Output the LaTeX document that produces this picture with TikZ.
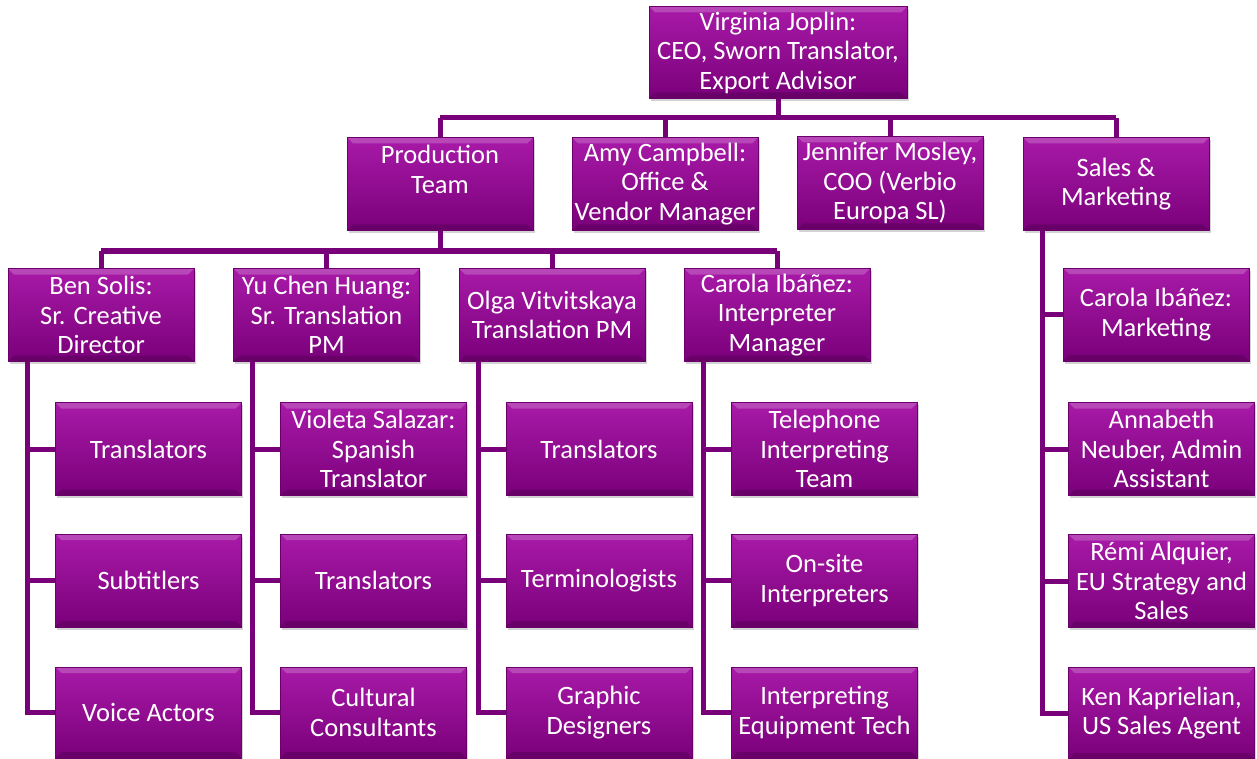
\documentclass[tikz,border=0pt]{standalone}
\usepackage{fontspec}
\setmainfont{Carlito}
\usetikzlibrary{shadows}

\definecolor{boxtop}{HTML}{A81AA8}
\definecolor{boxbot}{HTML}{7A007A}
\definecolor{boxedge}{HTML}{6A006A}
\definecolor{linkcol}{HTML}{780078}

\tikzset{
  box/.style={rectangle, minimum width=186pt, minimum height=93pt, inner sep=1pt,
    top color=boxtop, bottom color=boxbot, draw=boxedge, line width=0.6pt,
    text=white, align=center, font=\fontsize{26.5}{29.5}\selectfont,
    drop shadow={opacity=0.35, shadow xshift=1.5pt, shadow yshift=-2.5pt},
    path picture={
      \fill[white, opacity=0.2] (path picture bounding box.north west) -- (path picture bounding box.north east)
        -- ([xshift=-6pt, yshift=-6pt]path picture bounding box.north east) -- ([xshift=6pt, yshift=-6pt]path picture bounding box.north west) -- cycle;
      \fill[black, opacity=0.15] (path picture bounding box.south west) -- (path picture bounding box.south east)
        -- ([xshift=-6pt, yshift=6pt]path picture bounding box.south east) -- ([xshift=6pt, yshift=6pt]path picture bounding box.south west) -- cycle;
    }},
  link/.style={draw=linkcol, line width=5pt}
}

\begin{document}
\begin{tikzpicture}[x=1pt, y=-1pt]
  \useasboundingbox (0, 0) rectangle (1257, 759);

  % top
  \node[box, minimum width=258pt, minimum height=92pt] (ceo) at (778, 52.5) {Virginia Joplin:\\CEO, Sworn Translator,\\Export Advisor};

  % first row
  \node[box] (prod) at (440, 184) {Production\\Team\\\mbox{}};
  \node[box] (amy) at (665, 184) {Amy Campbell:\\Office \&\\Vendor Manager};
  \node[box] (jen) at (890, 183) {Jennifer Mosley,\\COO (Verbio\\Europa SL)};
  \node[box] (sales) at (1116, 184) {Sales \&\\Marketing};

  % team leads
  \node[box] (ben) at (101, 315) {Ben Solis:\\Sr. Creative\\Director};
  \node[box] (yu) at (326.5, 315) {Yu Chen Huang:\\Sr. Translation\\PM};
  \node[box] (olga) at (552, 315) {Olga Vitvitskaya\\Translation PM};
  \node[box] (carola) at (777, 315) {Carola Ibáñez:\\Interpreter\\Manager};

  % teams
  \node[box] (ben1) at (148.5, 449) {Translators};
  \node[box] (ben2) at (148.5, 580.5) {Subtitlers};
  \node[box, minimum height=91pt] (ben3) at (148.5, 712.5) {Voice Actors};

  \node[box] (yu1) at (373.5, 449) {Violeta Salazar:\\Spanish\\Translator};
  \node[box] (yu2) at (373.5, 580.5) {Translators};
  \node[box, minimum height=91pt] (yu3) at (373.5, 712.5) {Cultural\\Consultants};

  \node[box] (olga1) at (599, 449) {Translators};
  \node[box] (olga2) at (599, 580.5) {Terminologists};
  \node[box, minimum height=91pt] (olga3) at (599, 712.5) {Graphic\\Designers};

  \node[box] (carola1) at (824.5, 449) {Telephone\\Interpreting\\Team};
  \node[box] (carola2) at (824.5, 580.5) {On-site\\Interpreters};
  \node[box, minimum height=91pt] (carola3) at (824.5, 712.5) {Interpreting\\Equipment Tech};

  \node[box] (sales1) at (1156, 314.5) {Carola Ibáñez:\\Marketing};
  \node[box] (sales2) at (1161.5, 449) {Annabeth\\Neuber, Admin\\Assistant};
  \node[box] (sales3) at (1161.5, 581) {Rémi Alquier,\\EU Strategy and\\Sales};
  \node[box, minimum height=92pt] (sales4) at (1161.5, 713) {Ken Kaprielian,\\US Sales Agent};

  % connectors
  \coordinate (bus1) at (778, 118);
  \coordinate (bus2) at (440, 251);
  \draw[link] (ceo.south) -- (bus1);
  \draw[link] (bus1 -| prod.north) -- (bus1 -| sales.north);
  \foreach \n in {prod, amy, jen, sales}
    \draw[link] (bus1 -| \n.north) -- (\n.north);
  \draw[link] (prod.south) -- (bus2);
  \draw[link] (bus2 -| ben.north) -- (bus2 -| carola.north);
  \foreach \n in {ben, yu, olga, carola}
    \draw[link] (bus2 -| \n.north) -- (\n.north);
  \foreach \p/\k in {ben/3, yu/3, olga/3, carola/3, sales/4}
    \foreach \i in {1,...,\k}
      \draw[link] ([xshift=-74pt]\p.south) |- (\p\i.west);

\end{tikzpicture}
\end{document}
